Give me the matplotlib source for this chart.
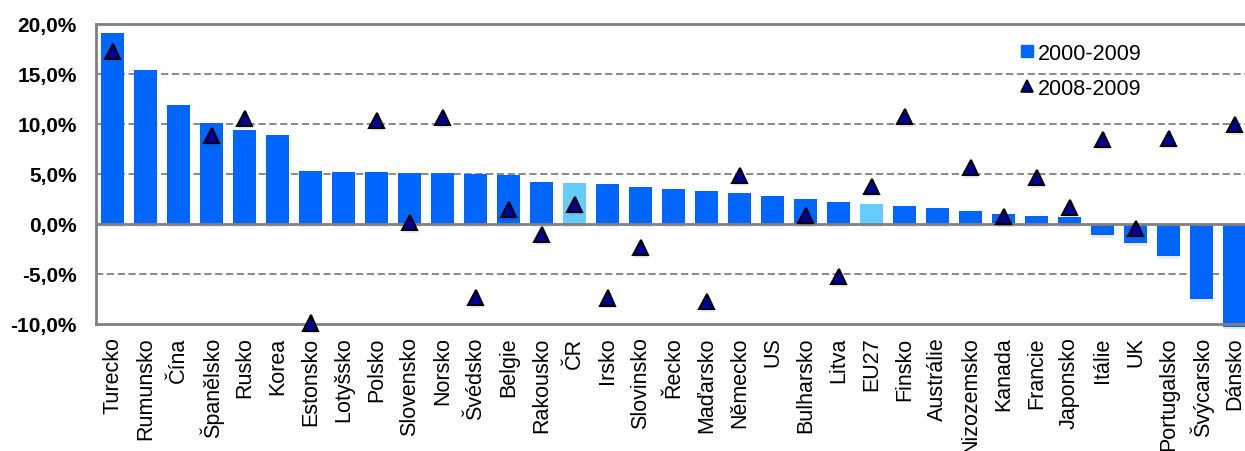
import matplotlib.pyplot as plt
import matplotlib.patheffects as pe
from matplotlib.lines import Line2D
import numpy as np

plt.rcParams['font.family'] = ['Liberation Sans', 'DejaVu Sans']

zeme = ['Turecko', 'Rumunsko', 'Čína', 'Španělsko', 'Rusko', 'Korea', 'Estonsko',
        'Lotyšsko', 'Polsko', 'Slovensko', 'Norsko', 'Švédsko', 'Belgie', 'Rakousko',
        'ČR', 'Irsko', 'Slovinsko', 'Řecko', 'Maďarsko', 'Německo', 'US', 'Bulharsko',
        'Litva', 'EU27', 'Finsko', 'Austrálie', 'Nizozemsko', 'Kanada', 'Francie',
        'Japonsko', 'Itálie', 'UK', 'Portugalsko', 'Švýcarsko', 'Dánsko']

# průměr 2000-2009 (%)
r2000_2009 = [19.1, 15.4, 11.85, 10.1, 9.35, 8.9, 5.25, 5.2, 5.15, 5.1, 5.05, 5.0, 4.9,
              4.13, 4.06, 3.96, 3.66, 3.52, 3.23, 3.03, 2.76, 2.46, 2.13, 1.96, 1.8,
              1.57, 1.24, 0.97, 0.77, 0.67, -1.13, -1.93, -3.26, -7.55, -10.25]

# změna 2008-2009 (%), nan = bez hodnoty
r2008_2009 = [17.2, np.nan, np.nan, 8.85, 10.5, np.nan, -9.9, np.nan, 10.3, 0.15, 10.65,
              -7.35, 1.45, -1.1, 1.9, -7.4, -2.35, np.nan, -7.75, 4.85, np.nan, 0.85,
              -5.25, 3.75, 10.75, np.nan, 5.6, 0.75, 4.6, 1.65, 8.45, -0.45, 8.55,
              np.nan, 9.95]

zvyraznit = ['ČR', 'EU27']

modra = '#0066ff'
svetla = '#66ccff'
tmava = '#000099'
seda = '#808080'

fig = plt.figure(figsize=(12.45, 4.52), dpi=100)
ax = fig.add_axes([96 / 1245, 1 - 325 / 452, 1155 / 1245, 300.5 / 452])

x = np.arange(len(zeme))
barvy = [svetla if z in zvyraznit else modra for z in zeme]
stin = [pe.SimplePatchShadow(offset=(0.5, -2), shadow_rgbFace='#000000', alpha=0.08), pe.Normal()]

ax.bar(x, r2000_2009, width=0.67, color=barvy, zorder=2, clip_on=False, path_effects=stin)
ax.plot(x, r2008_2009, ls='none', marker='^', ms=11, mfc=tmava, mec='black', mew=1.5,
        zorder=4, clip_on=False, path_effects=stin)

ax.set_xlim(-0.5, len(zeme) - 0.5)
ax.set_ylim(-10, 20)
ax.set_yticks([-10, -5, 0, 5, 10, 15, 20])
ax.set_yticklabels([f'{v:.1f}%'.replace('.', ',') for v in ax.get_yticks()],
                   fontsize=15, fontweight='bold')
ax.set_xticks(x)
ax.set_xticklabels(zeme, rotation=90, fontsize=15.5)
ax.tick_params(axis='y', length=0, pad=14)
ax.tick_params(axis='x', length=0, pad=9)

for v in [-5, 5, 10, 15]:
    ax.axhline(v, color=seda, lw=1.3, ls=(0, (4, 2)), zorder=1)
ax.axhline(0, color=seda, lw=2, zorder=3)

ax.spines['right'].set_visible(False)
for s in ['left', 'top', 'bottom']:
    ax.spines[s].set_color(seda)
    ax.spines[s].set_linewidth(2)

uchyty = [Line2D([], [], ls='none', marker='s', ms=8, mfc=modra, mec=modra),
          Line2D([], [], ls='none', marker='^', ms=8, mfc=tmava, mec='black', mew=1.2)]
fig.legend(uchyty, ['2000-2009', '2008-2009'], loc='upper left',
           bbox_to_anchor=(1021 / 1245, 1 - 44 / 452), frameon=False, fontsize=15.5,
           handlelength=0.6, handletextpad=0.2, labelspacing=0.65, borderpad=0,
           borderaxespad=0)

fig.savefig('out.png', dpi=100)
